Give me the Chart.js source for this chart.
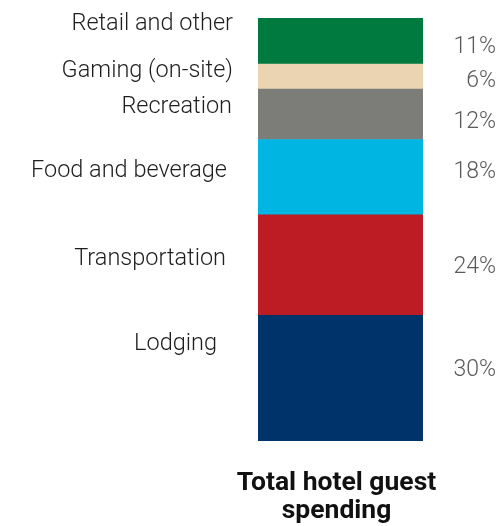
<!DOCTYPE html>
<html>
<head>
<meta charset="utf-8">
<script src="https://cdn.jsdelivr.net/npm/chart.js@4"></script>
<style>
  html, body { margin: 0; padding: 0; background: #ffffff; }
  #wrap { width: 499px; height: 526px; position: relative; }
</style>
</head>
<body>
<div id="wrap"><canvas id="c"></canvas></div>
<script>
// Share of total hotel guest spending, stacked from the bottom up
const categories = ['Lodging', 'Transportation', 'Food and beverage', 'Recreation', 'Gaming (on-site)', 'Retail and other'];
const shares = [30, 24, 18, 12, 6, 11];
const colors = ['#00336a', '#be1c24', '#00b5e2', '#7c7d78', '#ead4b2', '#007a3e'];
const barLabel = ['Total hotel guest', 'spending'];

const total = shares.reduce((a, b) => a + b, 0);

// Text placement around the bar (vertical nudges from each segment's centre, horizontal nudges from the label column)
const sideText = {
  nameRight: 233,
  nameNudgeY: [-34.5, -5.5, -6, -7, -6, -16.5],
  nameNudgeX: [-16, -7, -6, -1, 0, 0],
  pctRight: 496,
  pctNudgeY: [-8, 2, -5, 7.5, 5, 6.5]
};

const segmentText = {
  id: 'segmentText',
  afterDatasetsDraw(chart) {
    const ctx = chart.ctx;
    ctx.save();
    ctx.textBaseline = 'middle';
    ctx.textAlign = 'right';
    chart.data.datasets.forEach((ds, i) => {
      const bar = chart.getDatasetMeta(i).data[0];
      if (!bar) return;
      const mid = (bar.y + bar.base) / 2;
      ctx.font = '300 23.5px Roboto';
      ctx.fillStyle = '#1e1e1e';
      ctx.fillText(ds.label, sideText.nameRight + sideText.nameNudgeX[i], mid + sideText.nameNudgeY[i]);
      ctx.font = '300 23px Roboto';
      ctx.fillStyle = '#5a5a5a';
      ctx.fillText(ds.data[0] + '%', sideText.pctRight, mid + sideText.pctNudgeY[i]);
    });
    ctx.restore();
  }
};

new Chart(document.getElementById('c'), {
  type: 'bar',
  data: {
    labels: [barLabel],
    datasets: categories.map((name, i) => ({
      label: name,
      data: [shares[i]],
      backgroundColor: colors[i],
      borderWidth: 0,
      barPercentage: 1,
      categoryPercentage: 1
    }))
  },
  options: {
    responsive: true,
    maintainAspectRatio: false,
    animation: false,
    layout: { padding: { left: 258, right: 76, top: 18, bottom: 0 } },
    plugins: { legend: { display: false }, tooltip: { enabled: false } },
    scales: {
      x: {
        stacked: true,
        grid: { display: false, drawTicks: false, tickLength: 0 },
        border: { display: false },
        ticks: {
          color: '#111111',
          font: { family: 'Roboto', size: 26.5, weight: 'bold', lineHeight: 1.03 },
          padding: 29,
          labelOffset: -4,
          maxRotation: 0
        },
        afterFit(scale) {
          scale.height = 85;
          scale.paddingLeft = 0;
          scale.paddingRight = 0;
        }
      },
      y: {
        stacked: true,
        display: false,
        min: 0,
        max: total
      }
    }
  },
  plugins: [segmentText]
});
</script>
</body>
</html>
